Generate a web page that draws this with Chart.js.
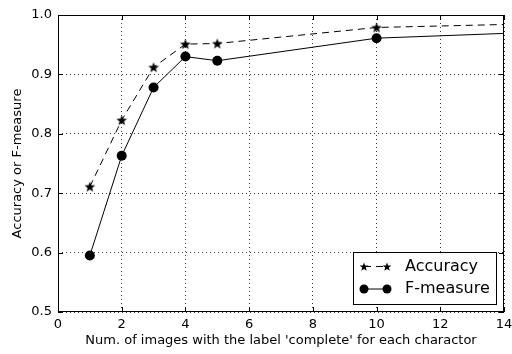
<!DOCTYPE html>
<html>
<head>
<meta charset="utf-8">
<script src="https://cdn.jsdelivr.net/npm/chart.js@4"></script>
<style>
  html, body { margin: 0; padding: 0; background: #fff; }
  #wrap { width: 512px; height: 354px; }
</style>
</head>
<body>
<div id="wrap"><canvas id="resultChart"></canvas></div>
<script>
const numImages = [1, 2, 3, 4, 5, 10, 14];
const accuracy = [0.711, 0.823, 0.912, 0.951, 0.952, 0.979, 0.984];
const fMeasure = [0.595, 0.763, 0.878, 0.930, 0.923, 0.961, 0.969];
// last point only continues the line, no marker drawn there
const showMarker = [true, true, true, true, true, true, false];
const xTicks = [0, 2, 4, 6, 8, 10, 12, 14];
const yTicks = [0.5, 0.6, 0.7, 0.8, 0.9, 1.0];

const FONT = 'DejaVu Sans';

function drawStar(ctx, cx, cy, r) {
  ctx.beginPath();
  for (let i = 0; i < 10; i++) {
    const rad = i % 2 === 0 ? r : r * 0.42;
    const a = -Math.PI / 2 + i * Math.PI / 5;
    const px = cx + rad * Math.cos(a), py = cy + rad * Math.sin(a);
    if (i === 0) ctx.moveTo(px, py); else ctx.lineTo(px, py);
  }
  ctx.closePath();
  ctx.fill();
}

const starImg = document.createElement('canvas');
starImg.width = 12; starImg.height = 12;
(function () {
  const c = starImg.getContext('2d');
  c.fillStyle = '#000';
  drawStar(c, 6, 6.5, 5.6);
})();

const pts = ys => numImages.map((x, i) => ({x: x, y: ys[i]}));

// matplotlib-ish frame: full box and inward ticks on every side
const framePlugin = {
  id: 'frame',
  afterDatasetsDraw(chart) {
    const {ctx, chartArea: a, scales} = chart;
    ctx.save();
    ctx.strokeStyle = '#000';
    ctx.lineWidth = 1;
    ctx.strokeRect(a.left + 0.5, a.top + 0.5, a.right - a.left - 1, a.bottom - a.top - 1);
    ctx.beginPath();
    xTicks.forEach(v => {
      const px = Math.round(scales.x.getPixelForValue(v)) + 0.5;
      ctx.moveTo(px, a.bottom); ctx.lineTo(px, a.bottom - 5);
      ctx.moveTo(px, a.top); ctx.lineTo(px, a.top + 5);
    });
    yTicks.forEach(v => {
      const py = Math.round(scales.y.getPixelForValue(v)) + 0.5;
      ctx.moveTo(a.left, py); ctx.lineTo(a.left + 5, py);
      ctx.moveTo(a.right, py); ctx.lineTo(a.right - 5, py);
    });
    ctx.stroke();
    ctx.restore();
  }
};

// legend box in lower right corner of the plot
const boxLegend = {
  id: 'boxLegend',
  afterDraw(chart) {
    const {ctx, chartArea: a} = chart;
    const w = 143, h = 52;
    const x0 = a.right - 8 - w, y0 = a.bottom - 8 - h;
    ctx.save();
    ctx.fillStyle = '#fff';
    ctx.fillRect(x0, y0, w, h);
    ctx.strokeStyle = '#000';
    ctx.lineWidth = 1;
    ctx.strokeRect(Math.round(x0) + 0.5, Math.round(y0) + 0.5, w, h);
    const m1 = x0 + 11, m2 = x0 + 34;
    chart.data.datasets.forEach((ds, i) => {
      const cy = y0 + 14.5 + i * 22.5;
      ctx.strokeStyle = '#000';
      ctx.lineWidth = 1;
      ctx.setLineDash(ds.borderDash || []);
      ctx.beginPath();
      ctx.moveTo(m1, cy); ctx.lineTo(m2, cy);
      ctx.stroke();
      ctx.setLineDash([]);
      ctx.fillStyle = '#000';
      if (i === 0) {
        drawStar(ctx, m1, cy + 0.5, 4.6);
        drawStar(ctx, m2, cy + 0.5, 4.6);
      } else {
        ctx.beginPath(); ctx.arc(m1, cy, 4.5, 0, Math.PI * 2); ctx.fill();
        ctx.beginPath(); ctx.arc(m2, cy, 4.5, 0, Math.PI * 2); ctx.fill();
      }
      ctx.font = '16px "' + FONT + '"';
      ctx.textBaseline = 'middle';
      ctx.fillText(ds.label, x0 + 52, cy);
    });
    ctx.restore();
  }
};

new Chart(document.getElementById('resultChart'), {
  type: 'line',
  data: {
    datasets: [
      {
        label: 'Accuracy',
        data: pts(accuracy),
        borderColor: '#000',
        backgroundColor: '#000',
        borderWidth: 1,
        borderDash: [7, 5],
        pointStyle: starImg,
        pointRadius: showMarker.map(s => s ? 6 : 0),
        tension: 0
      },
      {
        label: 'F-measure',
        data: pts(fMeasure),
        borderColor: '#000',
        backgroundColor: '#000',
        borderWidth: 1,
        pointStyle: 'circle',
        pointRadius: showMarker.map(s => s ? 5 : 0),
        pointBorderWidth: 0,
        tension: 0
      }
    ]
  },
  options: {
    responsive: true,
    maintainAspectRatio: false,
    animation: false,
    layout: { padding: { left: 0, top: 15, right: 8, bottom: 0 } },
    plugins: { legend: { display: false }, tooltip: { enabled: false } },
    scales: {
      x: {
        type: 'linear',
        min: 0, max: 14,
        afterBuildTicks: s => { s.ticks = xTicks.map(v => ({value: v})); },
        afterFit: s => { s.height = 42; s.paddingLeft = 0; s.paddingRight = 0; },
        grid: { color: '#000', lineWidth: 0.8, drawTicks: false },
        border: { display: false, dash: [1, 3] },
        ticks: { color: '#000', padding: 5, font: { family: FONT, size: 13 } },
        title: {
          display: true,
          text: "Num. of images with the label 'complete' for each charactor",
          color: '#000',
          font: { family: FONT, size: 13 },
          padding: { top: 0, bottom: 6 }
        }
      },
      y: {
        min: 0.5, max: 1.0,
        afterBuildTicks: s => { s.ticks = yTicks.map(v => ({value: v})); },
        afterFit: s => { s.width = 58; s.paddingTop = 0; s.paddingBottom = 0; },
        grid: { color: '#000', lineWidth: 0.8, drawTicks: false },
        border: { display: false, dash: [1, 3] },
        ticks: {
          color: '#000', padding: 6,
          font: { family: FONT, size: 13 },
          callback: v => v.toFixed(1)
        },
        title: {
          display: true,
          text: 'Accuracy or F-measure',
          color: '#000',
          font: { family: FONT, size: 13 },
          padding: { top: 10, bottom: 0 }
        }
      }
    }
  },
  plugins: [framePlugin, boxLegend]
});
</script>
</body>
</html>
